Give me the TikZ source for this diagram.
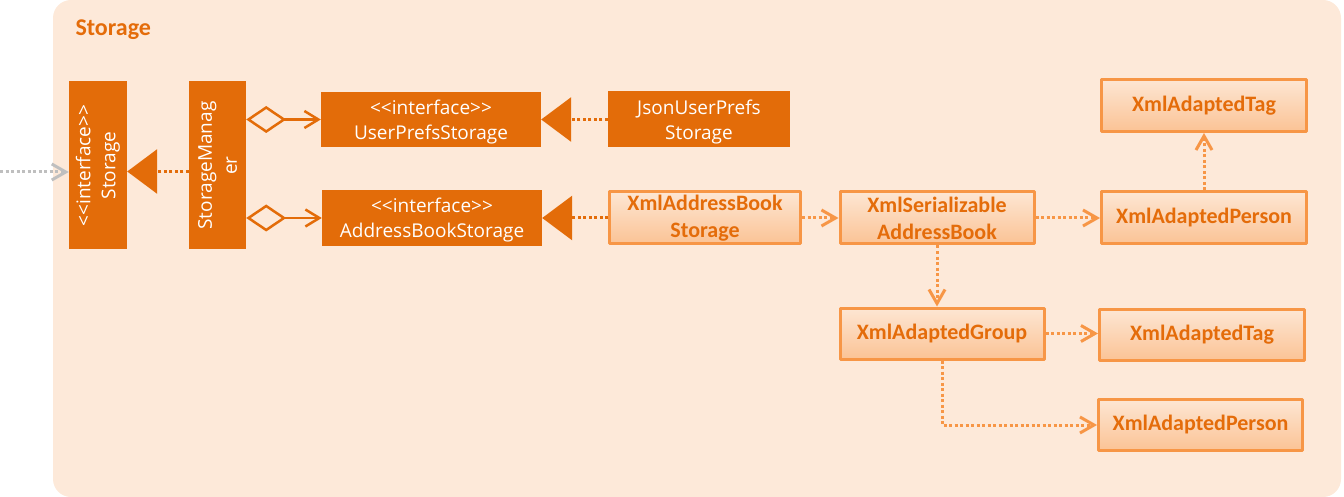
\documentclass[tikz,border=0pt]{standalone}
\usepackage{fontspec}
\setmainfont{Carlito}
\newfontfamily\boxfont{Open Sans}
\usetikzlibrary{arrows.meta}
\definecolor{bgor}{HTML}{FDE9D9}
\definecolor{dkor}{HTML}{E36C09}
\definecolor{ltor}{HTML}{F79646}
\definecolor{txor}{HTML}{E46C0A}
\definecolor{gtop}{HTML}{FDE6D3}
\definecolor{gbot}{HTML}{FBC395}
\definecolor{grline}{HTML}{BFBFBF}
\begin{document}
\begin{tikzpicture}[x=1pt,y=-1pt,line join=round,
	dk/.style={fill=dkor,text=white,inner sep=0pt,align=center,font=\boxfont\fontsize{19}{25}\selectfont},
	lt/.style={draw=ltor,line width=3pt,top color=gtop,bottom color=gbot,text=txor,inner sep=0pt,align=center,font=\fontsize{22}{27}\selectfont\bfseries},
	dotline/.style={line width=3pt,dash pattern=on 3pt off 2.5pt},
	real/.style={dotline,draw=dkor,-{Triangle[length=30pt,width=44pt,fill=dkor,color=dkor]}},
	agg/.style={draw=dkor,line width=2.5pt,{Diamond[length=40pt,width=27pt,fill=bgor]}-{Straight Barb[length=14pt,width=17pt]}},
	dep/.style={dotline,draw=ltor,-{Straight Barb[length=14pt,width=16pt]}}]
	\useasboundingbox (0,0) rectangle (1344,497);
	\fill[bgor,rounded corners=18pt] (53,0) rectangle (1341,497);
	\node[anchor=base west,text=txor,font=\fontsize{24}{28}\selectfont\bfseries] (title) at (72,36) {Storage};
	% vertical boxes, rotated: north is the left side
	\node[dk,rotate=90,minimum width=168pt,minimum height=58pt] (stor) at (98,165.5) {<<interface>>\\Storage};
	\node[dk,rotate=90,minimum width=168pt,minimum height=57pt] (mgr) at (217.5,165.5) {StorageManag\\er};
	\node[dk,minimum width=220pt,minimum height=55pt,text depth=-3pt] (ups) at (431,119.5) {<<interface>>\\UserPrefsStorage};
	\node[dk,minimum width=220pt,minimum height=56pt,text depth=-3pt] (abs) at (432,218) {<<interface>>\\AddressBookStorage};
	\node[dk,minimum width=182pt,minimum height=56pt,text depth=-3pt] (json) at (699,119.5) {JsonUserPrefs\\Storage};
	\node[lt,minimum width=191pt,minimum height=52pt] (xabs) at (705,218) {XmlAddressBook\\Storage};
	\node[lt,minimum width=194pt,minimum height=52pt] (xsab) at (937,218) {XmlSerializable\\AddressBook};
	\node[lt,minimum width=205pt,minimum height=52pt] (xap1) at (1204,218) {XmlAdaptedPerson};
	\node[lt,minimum width=205pt,minimum height=52pt] (xat1) at (1204,105.5) {XmlAdaptedTag};
	\node[lt,minimum width=204pt,minimum height=51pt] (xag) at (942,333.5) {XmlAdaptedGroup};
	\node[lt,minimum width=205pt,minimum height=51pt] (xat2) at (1202,335) {XmlAdaptedTag};
	\node[lt,minimum width=204pt,minimum height=51pt] (xap2) at (1200.5,425) {XmlAdaptedPerson};
	\coordinate (ext) at (0,172);
	\draw[dotline,draw=grline,-{Straight Barb[length=14pt,width=16pt]}] (ext) -- (ext -| stor.north);
	\draw[real] ([yshift=-6pt]mgr.north) -- ([yshift=-6pt]stor.south);
	\draw[agg] (mgr.south |- ups) -- (ups.west);
	\draw[agg] (mgr.south |- abs) -- (abs.west);
	\draw[real] (json.west) -- (ups.east);
	\draw[real] (xabs.west) -- (abs.east);
	\draw[dep] (xabs) -- (xsab);
	\draw[dep] (xsab) -- (xap1);
	\draw[dep] (xap1) -- (xat1);
	\draw[dep] (xsab.south) -- (xsab.south |- xag.north);
	\draw[dep] (xag.east) -- (xag.east -| xat2.west);
	\draw[dep] (xag.south) |- (xap2.west);
\end{tikzpicture}
\end{document}
